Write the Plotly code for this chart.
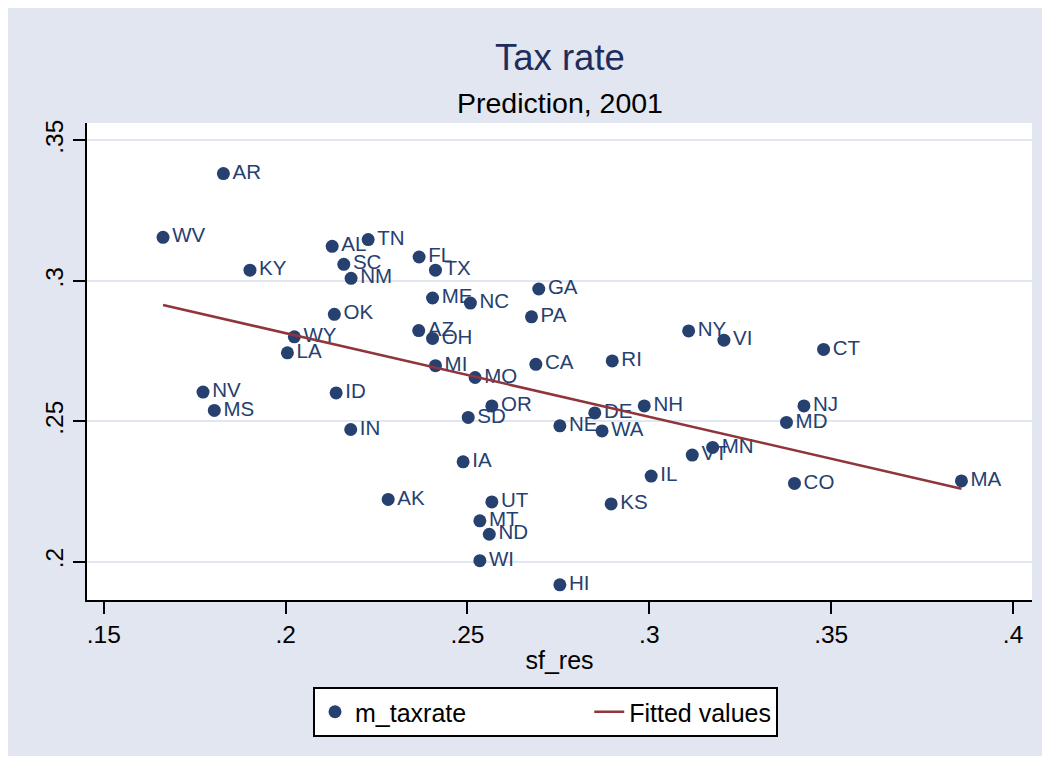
import numpy as np
import plotly.graph_objects as go

states = ["AR","WV","KY","AL","TN","SC","NM","OK","WY","LA",
          "FL","TX","ME","NC","GA","PA","AZ","OH","NY","VI",
          "MI","CA","RI","CT","MO","NV","MS","ID","IN","OR",
          "SD","NE","DE","WA","NH","NJ","MD","VT","MN","IA",
          "IL","CO","MA","AK","UT","KS","MT","ND","WI","HI"]
sf_res = [0.1829,0.1663,0.1902,0.2128,0.2227,0.2160,0.2180,0.2134,0.2024,0.2005,
          0.2367,0.2412,0.2404,0.2508,0.2696,0.2676,0.2366,0.2404,0.3108,0.3205,
          0.2412,0.2688,0.2898,0.3479,0.2521,0.1773,0.1804,0.2139,0.2179,0.2567,
          0.2502,0.2754,0.2850,0.2870,0.2986,0.3425,0.3377,0.3118,0.3174,0.2488,
          0.3005,0.3399,0.3858,0.2282,0.2567,0.2895,0.2534,0.2560,0.2534,0.2754]
m_taxrate = [0.3382,0.3155,0.3038,0.3123,0.3147,0.3059,0.3009,0.2881,0.2801,0.2744,
             0.3085,0.3038,0.2939,0.2921,0.2971,0.2872,0.2823,0.2795,0.2822,0.2789,
             0.2698,0.2703,0.2715,0.2756,0.2656,0.2604,0.2539,0.2601,0.2471,0.2555,
             0.2514,0.2484,0.2530,0.2466,0.2555,0.2555,0.2496,0.2380,0.2407,0.2356,
             0.2305,0.2279,0.2288,0.2222,0.2213,0.2206,0.2146,0.2098,0.2004,0.1918]
x_ticks = [0.15, 0.2, 0.25, 0.3, 0.35, 0.4]
x_ticklabels = [".15", ".2", ".25", ".3", ".35", ".4"]
y_ticks = [0.2, 0.25, 0.3, 0.35]
y_ticklabels = [".2", ".25", ".3", ".35"]

# OLS fitted values
xa = np.array(sf_res)
ya = np.array(m_taxrate)
b1, b0 = np.polyfit(xa, ya, 1)
order = np.argsort(xa)
fit_x = xa[order]
fit_y = b0 + b1 * fit_x

NAVY = "#26406f"
MAROON = "#90353b"
BG = "#e1e6f0"
FONT = "Liberation Sans, Arial, sans-serif"

fig = go.Figure()
fig.add_trace(go.Scatter(
    x=sf_res, y=m_taxrate, text=states, mode="markers+text",
    textposition="middle right", name="m_taxrate" + "\u00a0" * 17,
    marker=dict(size=13, color=NAVY),
    textfont=dict(size=20.5, color=NAVY, family=FONT),
))
fig.add_trace(go.Scatter(
    x=fit_x, y=fit_y, mode="lines", name="Fitted values",
    line=dict(color=MAROON, width=2.5),
))

W, H = 1034, 748
L, R, T, B = 79, 10, 115, 156
pw, ph = W - L - R, H - T - B

def px2paper_x(px):
    return (px - L) / pw

def px2paper_y(py):
    return (H - B - py) / ph

fig.add_annotation(text="Tax rate", xref="paper", yref="paper", x=0.5, y=px2paper_y(50),
                   showarrow=False, yanchor="middle", xanchor="center",
                   font=dict(size=36.5, color="#1f2d5c", family=FONT))
fig.add_annotation(text="Prediction, 2001", xref="paper", yref="paper", x=0.5, y=px2paper_y(95),
                   showarrow=False, yanchor="middle", xanchor="center",
                   font=dict(size=28.5, color="black", family=FONT))

fig.update_layout(
    width=W, height=H,
    margin=dict(l=L, r=R, t=T, b=B, pad=0),
    paper_bgcolor=BG, plot_bgcolor="white",
    font=dict(family=FONT, color="black"),
    showlegend=True,
    legend=dict(orientation="h", x=px2paper_x(305), xanchor="left", y=px2paper_y(679), yanchor="top",
                bgcolor="white", bordercolor="black", borderwidth=2,
                font=dict(size=25, color="black", family=FONT)),
    xaxis=dict(range=[0.1454, 0.4052], tickvals=x_ticks, ticktext=x_ticklabels,
               showgrid=False, zeroline=False, showline=True, linecolor="black", linewidth=2,
               ticks="outside", ticklen=12, tickwidth=2, tickcolor="black",
               tickfont=dict(size=24.5, family=FONT, color="black"),
               title=dict(text="sf_res", font=dict(size=25, family=FONT, color="black"), standoff=4)),
    yaxis=dict(range=[0.1864, 0.3562], tickvals=y_ticks, ticktext=y_ticklabels,
               showgrid=True, gridcolor=BG, gridwidth=2, zeroline=False,
               showline=True, linecolor="black", linewidth=2,
               ticks="outside", ticklen=12, tickwidth=2, tickcolor="black", tickangle=-90,
               tickfont=dict(size=24.5, family=FONT, color="black")),
)

fig.write_html("out.html")
